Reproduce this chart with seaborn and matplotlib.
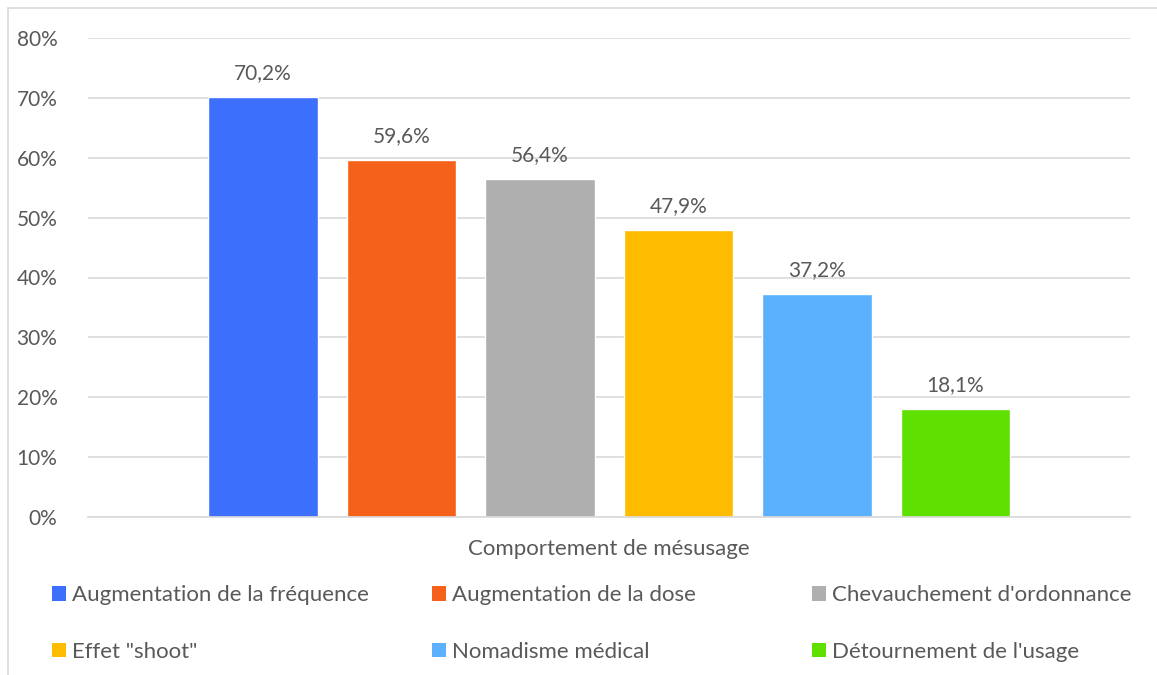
import matplotlib
matplotlib.use("Agg")
import matplotlib.pyplot as plt
from matplotlib.patches import Patch, Rectangle
import seaborn as sns
import pandas as pd

# Misuse behaviours and their share (%)
comportements = [
    "Augmentation de la fréquence",
    "Augmentation de la dose",
    "Chevauchement d'ordonnance",
    'Effet "shoot"',
    "Nomadisme médical",
    "Détournement de l'usage",
]
pourcentages = [70.2, 59.6, 56.4, 47.9, 37.2, 18.1]
couleurs = ["#3D6FFD", "#F5601A", "#AFAFAF", "#FFBB00", "#5CB1FE", "#5FE000"]
y_ticks = [0, 10, 20, 30, 40, 50, 60, 70, 80]
titre_axe_x = "Comportement de mésusage"

df = pd.DataFrame({"comportement": comportements, "pourcentage": pourcentages})

sns.set_theme(style="white")
plt.rcParams["font.family"] = ["Lato", "DejaVu Sans"]
TXT = "#595959"
GRID = "#D9D9D9"
FS_TICK = 15
FS_LAB = 15
FS_LEG = 16

W, H = 1157, 675
fig = plt.figure(figsize=(W / 100, H / 100), dpi=100)
fig.patch.set_facecolor("white")

# outer chart frame
fig.add_artist(Rectangle((8 / W, -0.1), 1.2, 1.1 - 8 / H, transform=fig.transFigure,
                         fill=False, edgecolor=GRID, linewidth=1.2))

ax = fig.add_axes([88 / W, 1 - 517 / H, (1130 - 88) / W, (517 - 38) / H])
sns.barplot(data=df, x="comportement", y="pourcentage", hue="comportement",
            palette=couleurs, width=0.794, legend=False, ax=ax, saturation=1)

ax.set_xlim(-1.2635, 6.26)
ax.set_ylim(0, 80)
ax.set_yticks(y_ticks)
ax.set_yticklabels([f"{v}%" for v in y_ticks], color=TXT, fontsize=FS_TICK)
ax.tick_params(axis="y", length=0, pad=22)
ax.set_xticks([])
ax.set_ylabel("")
ax.set_xlabel(titre_axe_x, color=TXT, fontsize=FS_LEG)
ax.xaxis.set_label_coords(0.5, -(549 - 517) / 479)
ax.xaxis.label.set_va("center")

ax.grid(axis="y", color=GRID, linewidth=1.2)
ax.set_axisbelow(True)
for s in ["top", "right", "left"]:
    ax.spines[s].set_visible(False)
ax.spines["bottom"].set_color(GRID)
ax.spines["bottom"].set_linewidth(1.2)

for cont in ax.containers:
    ax.bar_label(cont, labels=[f"{v:.1f}%".replace(".", ",") for v in cont.datavalues],
                 padding=10, color=TXT, fontsize=FS_LAB)

# legend laid out in three columns, two rows
handles = [Patch(facecolor=c, edgecolor="none") for c in couleurs]
col_x = [52, 432, 812]
for j, x0 in enumerate(col_x):
    idx = [j, j + 3]
    fig.legend([handles[i] for i in idx], [comportements[i] for i in idx],
               loc="center left", bbox_to_anchor=(x0 / W, 1 - 623.5 / H),
               bbox_transform=fig.transFigure, frameon=False, fontsize=FS_LEG,
               handlelength=0.63, handleheight=0.63, handletextpad=0.27,
               labelspacing=1.65, borderpad=0, borderaxespad=0, labelcolor=TXT)

fig.savefig("out.png", dpi=100)
